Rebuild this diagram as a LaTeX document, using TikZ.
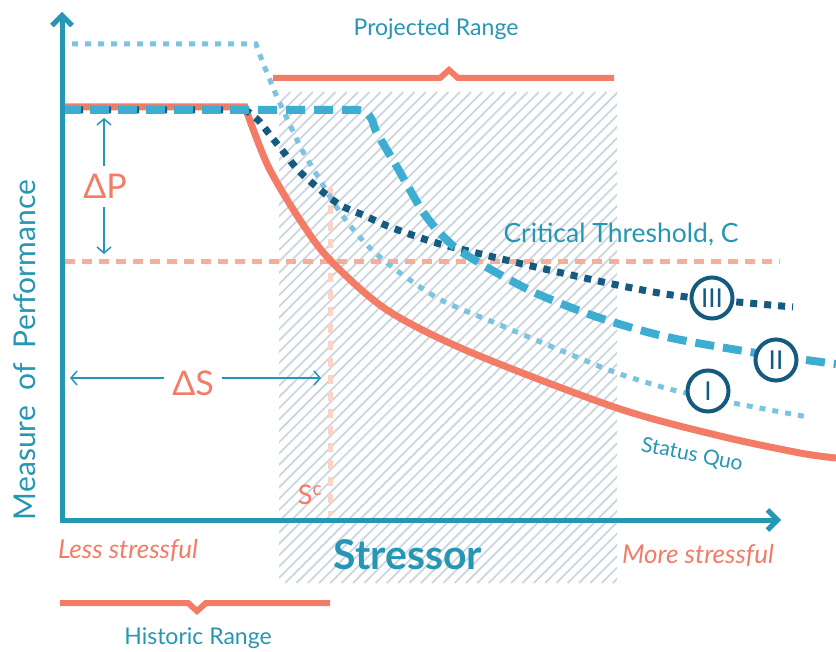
\documentclass[tikz,border=0pt]{standalone}
\usepackage{fontspec}
\setmainfont{Lato}
\usetikzlibrary{arrows.meta}

\definecolor{axisblue}{RGB}{37,150,180}
\definecolor{salmon}{RGB}{242,124,102}
\definecolor{threshold}{RGB}{249,173,150}
\definecolor{paleline}{RGB}{251,212,199}
\definecolor{lightcurve}{RGB}{124,195,223}
\definecolor{midcurve}{RGB}{62,173,210}
\definecolor{navy}{RGB}{20,91,127}
\definecolor{hatch}{RGB}{203,214,223}

\begin{document}
\begin{tikzpicture}[x=1pt,y=-1pt,
    axisline/.style={draw=axisblue, line width=5pt,
        -{Straight Barb[length=10pt,width=20pt,line width=5pt]}},
    thinarrow/.style={draw=axisblue, line width=1.5pt,
        -{Straight Barb[length=6pt,width=14pt,line width=1.5pt]}},
    rangebrace/.style={draw=salmon, line width=6pt},
    bluetext/.style={text=axisblue, inner sep=0pt},
    redtext/.style={text=salmon, inner sep=0pt},
    statusquo/.style={draw=salmon, line width=7pt},
    optone/.style={draw=lightcurve, line width=5pt, dash pattern=on 6pt off 7pt},
    opttwo/.style={draw=midcurve, line width=8pt, dash pattern=on 19pt off 9pt},
    optthree/.style={draw=navy, line width=7pt, dash pattern=on 7pt off 7pt},
    ring/.style={circle, draw=navy, line width=4pt, fill=white,
        minimum size=41pt, inner sep=0pt, text=navy,
        font=\fontsize{26}{26}\selectfont}]

  \useasboundingbox (0,0) rectangle (836,652);

  % projected range band
  \begin{scope}
    \clip (279,92) rectangle (617,583);
    \foreach \k in {0,...,75}
      \draw[hatch, line width=1.8pt] (-212+\k*11.3,583) -- ++(491,-491);
  \end{scope}

  % critical threshold
  \draw[threshold, line width=5pt, dash pattern=on 10pt off 7pt] (65,262) -- (780,262);
  \draw[paleline, line width=5pt, dash pattern=on 9pt off 8pt] (330,188) -- (330,515);

  % curves
  \draw[statusquo] (60,107) -- (245,107) -- plot[smooth] coordinates {(245,107) (268,166)
      (300,220) (330,260) (387,310) (470,352) (617,408) (720,436) (800,453) (836,458)};
  \draw[optone] (72,44) -- (256,44) -- plot[smooth] coordinates {(256,44) (263,63)
      (270,80) (277,97) (290,125) (302,150) (317,175) (332,200) (348,223) (367,245)
      (387,263) (410,280) (443,301) (500,325) (567,353) (617,373) (673,390) (733,403)
      (808,417)};
  \draw[optthree] (62,110) -- (245,110) -- plot[smooth] coordinates {(245,110) (250,113)
      (260,122) (270,135) (282,150) (298,170) (318,188) (340,205) (363,215) (390,227)
      (427,240) (452,247) (540,268) (627,287) (687,297) (793,307)};
  \draw[opttwo] (62,110) -- (358,110) -- plot[smooth] coordinates {(358,110) (366,112)
      (372,120) (377,133) (397,167) (410,190) (423,212) (437,230) (450,243) (460,251)
      (497,273) (540,295) (600,318) (667,337) (750,352) (836,364)};

  % ranges
  \draw[rangebrace] (273,78) -- (440,78) -- (449,70) -- (458,78) -- (614,78);
  \draw[rangebrace] (60,603) -- (188,603) -- (197,611) -- (206,603) -- (330,603);

  % axes
  \coordinate (origin) at (62,520);
  \coordinate (ytip) at (62,12);
  \coordinate (xtip) at (781,520);
  \draw[axisline] (origin) -- (ytip);
  \draw[axisline] (60,520) -- (xtip);

  % labels
  \node[bluetext, font=\fontsize{23}{27}\selectfont] (projected) at (436,29) {Projected Range};
  \node[bluetext, font=\fontsize{23}{27}\selectfont] (historic) at (198,638) {Historic Range};
  \node[bluetext, font=\fontsize{26.5}{30}\selectfont] (critical) at (621,235) {Critical Threshold, C};
  \node[bluetext, font=\fontsize{41}{45}\selectfont\bfseries] (stressor) at (408,555) {Stressor};
  \node[bluetext, rotate=90, font=\fontsize{30}{34}\selectfont] (measure) at (25,350)
      {Measure\ \ of\ \ Performance};
  \node[bluetext, rotate=-11, font=\fontsize{21}{25}\selectfont] (statusquo) at (692,455) {Status Quo};
  \node[redtext, font=\fontsize{26}{30}\selectfont\itshape] (less) at (128,551) {Less stressful};
  \node[redtext, font=\fontsize{26}{30}\selectfont\itshape] (more) at (698,556) {More stressful};
  \node[redtext, font=\fontsize{34}{38}\selectfont] (dP) at (105,186) {ΔP};
  \node[redtext, font=\fontsize{34}{38}\selectfont] (dS) at (193,383) {ΔS};
  \node[redtext, font=\fontsize{27}{30}\selectfont] (sc) at (310,495) {S\textsuperscript{c}};

  % delta arrows
  \coordinate (dPtop) at (104,118);
  \coordinate (dPbot) at (104,254);
  \coordinate (dSleft) at (70,378);
  \coordinate (dSright) at (321,378);
  \draw[thinarrow] (104,166) -- (dPtop);
  \draw[thinarrow] (104,207) -- (dPbot);
  \draw[thinarrow] (dS.west |- dSleft) ++(-8,0) -- (dSleft);
  \draw[thinarrow] (dS.east |- dSright) ++(8,0) -- (dSright);

  % scenarios
  \node[ring] (three) at (712,298) {III};
  \node[ring] (two) at (776,360) {II};
  \node[ring] (one) at (708,391) {I};

\end{tikzpicture}
\end{document}
